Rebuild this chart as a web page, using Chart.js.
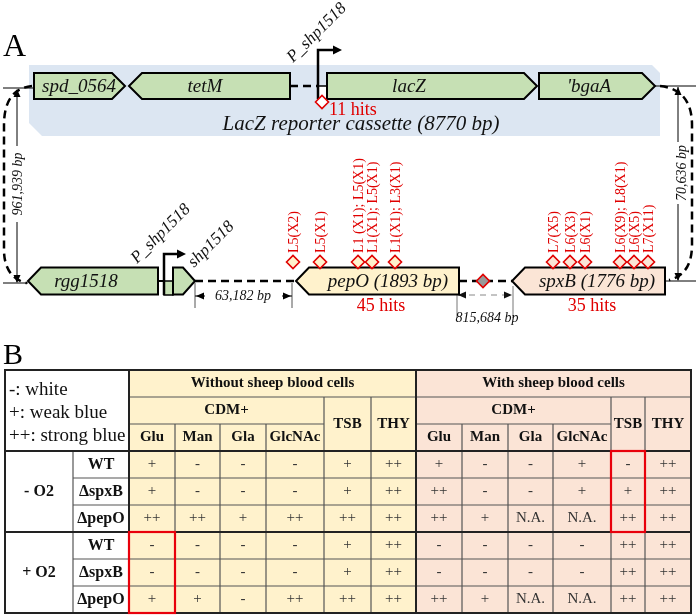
<!DOCTYPE html>
<html>
<head>
<meta charset="utf-8">
<script src="https://cdn.jsdelivr.net/npm/chart.js@4.4.0/dist/chart.umd.min.js"></script>
<style>
  html,body{margin:0;padding:0;background:#fff;}
  canvas{display:block;}
</style>
</head>
<body>
<canvas id="c" width="696" height="615"></canvas>
<script>
// Genes along the map (row 0 = reporter cassette, row 1 = chromosome)
const geneNames   = ["spd_0564","tetM","lacZ","'bgaA","rgg1518","shp1518","pepO (1893 bp)","spxB (1776 bp)"];
const geneStart   = [34,129,327,539,28,173,296,512];
const geneEnd     = [125,290,537,655,158,195,459,665];
const geneStrand  = [1,-1,1,1,-1,1,-1,-1];
const geneRow     = [0,0,0,0,1,1,1,1];
const geneLabelAt = [79,205,409,589,86,null,388,597];

// transposon hits
const cassetteHits  = [322];
const pepOHits      = [293,320,358,372,395];
const pepOHitLabels = ["L5(X2)","L5(X1)","L1 (X1); L5(X1)","L1(X1); L5(X1)","L1(X1); L3(X1)"];
const spxBHits      = [553,570,585,620,634,648];
const spxBHitLabels = ["L7(X5)","L6(X3)","L6(X1)","L6(X9); L8(X1)","L6(X5)","L7(X11)"];
const hitTotals     = ["11 hits","45 hits","35 hits"];
const distances     = ["961,939 bp","63,182 bp","815,684 bp","70,636 bp"];

// Table B
const legendLines = ["-: white","+: weak blue","++: strong blue"];
const media   = ["Glu","Man","Gla","GlcNAc","TSB","THY"];
const strains = ["WT","\u0394spxB","\u0394pepO"];
const oxygen  = ["- O2","+ O2"];
const noBlood = [
  ["+","-","-","-","+","++"],
  ["+","-","-","-","+","++"],
  ["++","++","+","++","++","++"],
  ["-","-","-","-","+","++"],
  ["-","-","-","-","+","++"],
  ["+","+","-","++","++","++"]
];
const withBlood = [
  ["+","-","-","+","-","++"],
  ["++","-","-","+","+","++"],
  ["++","+","N.A.","N.A.","++","++"],
  ["-","-","-","-","++","++"],
  ["-","-","-","-","++","++"],
  ["++","+","N.A.","N.A.","++","++"]
];

// layout / style
const ROW_Y = [86,281], GENE_H = [26,27], HIT_Y = 262;
const colX = [129,175,220,266,324,371,416,462,508,553,611,645,691];
const T_LEFT = 5, T_TOP = 370, ROW_H = 27;
const RED = "#e00000";
const SERIF = "'Liberation Serif','Times New Roman',serif";
const geneFill = ["#c6e0b4","#c6e0b4","#c6e0b4","#c6e0b4","#c6e0b4","#c6e0b4","#fff2cc","#fbe5d6"];

function txt(ctx,s,x,y,font,color,align,base,rot){
  ctx.save();
  ctx.translate(x,y);
  if(rot) ctx.rotate(rot);
  ctx.font = font; ctx.fillStyle = color||"#000";
  ctx.textAlign = align||"center"; ctx.textBaseline = base||"middle";
  ctx.fillText(s,0,0);
  ctx.restore();
}
function arrowHead(ctx,x,y,dir,len,w){
  len = len||8; w = w||3.5;
  ctx.beginPath();
  if(dir=="up"){ctx.moveTo(x,y);ctx.lineTo(x-w,y+len);ctx.lineTo(x+w,y+len);}
  if(dir=="down"){ctx.moveTo(x,y);ctx.lineTo(x-w,y-len);ctx.lineTo(x+w,y-len);}
  if(dir=="left"){ctx.moveTo(x,y);ctx.lineTo(x+len,y-w);ctx.lineTo(x+len,y+w);}
  if(dir=="right"){ctx.moveTo(x,y);ctx.lineTo(x-len,y-w);ctx.lineTo(x-len,y+w);}
  ctx.closePath(); ctx.fill();
}
function line(ctx,pts,w,color,dash){
  ctx.save();
  ctx.lineWidth = w; ctx.strokeStyle = color||"#000";
  ctx.setLineDash(dash||[]);
  ctx.beginPath();
  pts.forEach((p,i)=> i ? ctx.lineTo(p[0],p[1]) : ctx.moveTo(p[0],p[1]));
  ctx.stroke();
  ctx.restore();
}

const mapPlugin = {
  id:"map",
  beforeDatasetsDraw(chart){
    const ctx = chart.ctx, sx = chart.scales.x, sy = chart.scales.y;
    const X = v=>sx.getPixelForValue(v), Y = v=>sy.getPixelForValue(v);
    ctx.save();

    // panel letters
    txt(ctx,"A",X(3),Y(56),"32px "+SERIF,"#000","left","alphabetic");
    txt(ctx,"B",X(3),Y(364),"30px "+SERIF,"#000","left","alphabetic");

    // cassette band
    ctx.fillStyle = "#dce6f2";
    ctx.beginPath();
    ctx.moveTo(X(29),Y(65)); ctx.lineTo(X(652),Y(65)); ctx.lineTo(X(660),Y(73));
    ctx.lineTo(X(660),Y(136)); ctx.lineTo(X(42),Y(136)); ctx.lineTo(X(29),Y(123));
    ctx.closePath(); ctx.fill();
    txt(ctx,"LacZ reporter cassette (8770 bp)",X(361),Y(124),"italic 21px "+SERIF,"#111");

    // backbone lines
    const y0 = Y(ROW_Y[0]), y1 = Y(ROW_Y[1]);
    line(ctx,[[X(3),Y(88)],[X(34),Y(88)]],1,"#000");
    line(ctx,[[X(290),y0],[X(318),y0]],2.5,"#000",[8,5]);
    line(ctx,[[X(655),y0],[X(696),y0]],1,"#000");
    line(ctx,[[X(3),Y(283)],[X(28),Y(283)]],1,"#000");
    line(ctx,[[X(158),y1],[X(164),y1]],2,"#000");
    line(ctx,[[X(195),y1],[X(296),y1]],2.5,"#000",[8,5]);
    line(ctx,[[X(459),y1],[X(512),y1]],2.5,"#000",[8,5]);
    line(ctx,[[X(665),y1],[X(696),y1]],1,"#000");

    // long-range dashed links
    ctx.save();
    ctx.lineWidth = 2.5; ctx.setLineDash([8,5]); ctx.strokeStyle = "#000";
    ctx.beginPath();
    ctx.moveTo(X(32),Y(86)); ctx.bezierCurveTo(X(14),Y(88),X(4),Y(100),X(4),Y(125));
    ctx.lineTo(X(4),Y(250)); ctx.bezierCurveTo(X(4),Y(268),X(12),Y(280),X(27),Y(283));
    ctx.moveTo(X(660),Y(86)); ctx.bezierCurveTo(X(680),Y(88),X(692),Y(100),X(692),Y(125));
    ctx.lineTo(X(692),Y(245)); ctx.bezierCurveTo(X(692),Y(262),X(686),Y(276),X(669),Y(280));
    ctx.stroke();
    ctx.restore();

    // distance dimensions
    ctx.fillStyle = "#000";
    line(ctx,[[X(17),Y(90)],[X(17),Y(146)]],1);
    line(ctx,[[X(17),Y(222)],[X(17),Y(282)]],1);
    arrowHead(ctx,X(17),Y(89),"up"); arrowHead(ctx,X(17),Y(283),"down");
    txt(ctx,distances[0],X(18),Y(184),"italic 14px "+SERIF,"#111","center","middle",-Math.PI/2);

    line(ctx,[[X(678),Y(87)],[X(678),Y(142)]],1);
    line(ctx,[[X(678),Y(204)],[X(678),Y(280)]],1);
    arrowHead(ctx,X(678),Y(87),"up"); arrowHead(ctx,X(678),Y(281),"down");
    txt(ctx,distances[3],X(682),Y(173),"italic 14px "+SERIF,"#111","center","middle",-Math.PI/2);

    line(ctx,[[X(195),Y(283)],[X(195),Y(308)]],1,"#555");
    line(ctx,[[X(292),Y(283)],[X(292),Y(308)]],1,"#555");
    line(ctx,[[X(195),Y(296)],[X(205),Y(296)]],1); line(ctx,[[X(282),Y(296)],[X(292),Y(296)]],1);
    arrowHead(ctx,X(196),Y(296),"left"); arrowHead(ctx,X(291),Y(296),"right");
    txt(ctx,distances[1],X(243),Y(296),"italic 14px "+SERIF,"#111");

    line(ctx,[[X(457),Y(286)],[X(457),Y(318)]],1,"#777");
    line(ctx,[[X(513),Y(286)],[X(513),Y(318)]],1,"#777");
    line(ctx,[[X(458),Y(295)],[X(512),Y(295)]],1,"#888",[6,5]);
    ctx.fillStyle = "#111";
    arrowHead(ctx,X(458),Y(295),"left"); arrowHead(ctx,X(512),Y(295),"right");
    txt(ctx,distances[2],X(487),Y(318),"italic 14px "+SERIF,"#111");

    // promoters
    ctx.fillStyle = "#fff"; ctx.strokeStyle = "#000"; ctx.lineWidth = 1.5;
    ctx.fillRect(X(318),Y(86),X(327)-X(318),Y(99)-Y(86));
    ctx.strokeRect(X(318),Y(86),X(327)-X(318),Y(99)-Y(86));
    line(ctx,[[X(318),Y(99)],[X(318),Y(50)],[X(334),Y(50)]],2.5);
    ctx.fillStyle = "#000"; arrowHead(ctx,X(342),Y(50),"right",9,4.5);
    txt(ctx,"P_shp1518",X(293),Y(63),"italic 17px "+SERIF,"#111","left","alphabetic",-Math.PI/4);

    ctx.fillStyle = geneFill[5]; ctx.strokeStyle = "#000"; ctx.lineWidth = 1.5;
    ctx.fillRect(X(164),Y(281),X(173)-X(164),Y(295)-Y(281));
    ctx.strokeRect(X(164),Y(281),X(173)-X(164),Y(295)-Y(281));
    line(ctx,[[X(164),Y(295)],[X(164),Y(254)],[X(177),Y(254)]],2.5);
    ctx.fillStyle = "#000"; arrowHead(ctx,X(186),Y(254),"right",9,4.5);
    txt(ctx,"P_shp1518",X(137),Y(264),"italic 17px "+SERIF,"#111","left","alphabetic",-Math.PI/4);
    txt(ctx,"shp1518",X(194),Y(268),"italic 17px "+SERIF,"#111","left","alphabetic",-Math.PI/4);

    // genes
    geneNames.forEach((name,i)=>{
      const row = geneRow[i], yc = Y(ROW_Y[row]), h = GENE_H[row];
      const x0 = X(geneStart[i]), x1 = X(geneEnd[i]);
      const tip = i==5 ? 12 : 13;
      const t = yc-h/2, b = yc+h/2;
      ctx.beginPath();
      if(geneStrand[i]>0){
        ctx.moveTo(x0,t); ctx.lineTo(x1-tip,t); ctx.lineTo(x1,yc); ctx.lineTo(x1-tip,b); ctx.lineTo(x0,b);
      } else {
        ctx.moveTo(x1,t); ctx.lineTo(x0+tip,t); ctx.lineTo(x0,yc); ctx.lineTo(x0+tip,b); ctx.lineTo(x1,b);
      }
      ctx.closePath();
      ctx.fillStyle = geneFill[i]; ctx.fill();
      ctx.lineWidth = 2; ctx.strokeStyle = "#000"; ctx.lineJoin = "miter"; ctx.stroke();
      if(geneLabelAt[i]!=null)
        txt(ctx,name,X(geneLabelAt[i]),yc+1,"italic 19px "+SERIF,"#111");
    });

    // hit totals
    txt(ctx,hitTotals[0],X(329),Y(110),"18px "+SERIF,RED,"left");
    txt(ctx,hitTotals[1],X(381),Y(306),"18px "+SERIF,RED);
    txt(ctx,hitTotals[2],X(592),Y(306),"18px "+SERIF,RED);

    // ---------- table ----------
    const rowY = i=>Y(T_TOP+i*ROW_H);
    const L = X(T_LEFT), R = X(colX[12]);
    ctx.fillStyle = "#fff2cc"; ctx.fillRect(X(colX[0]),rowY(0),X(colX[6])-X(colX[0]),rowY(9)-rowY(0));
    ctx.fillStyle = "#fbe4d6"; ctx.fillRect(X(colX[6]),rowY(0),R-X(colX[6]),rowY(9)-rowY(0));

    const thin = "#555";
    // horizontal thin lines
    line(ctx,[[X(colX[0]),rowY(1)],[R,rowY(1)]],1.2,thin);
    line(ctx,[[X(colX[0]),rowY(2)],[X(colX[4]),rowY(2)]],1.2,thin);
    line(ctx,[[X(colX[6]),rowY(2)],[X(colX[10]),rowY(2)]],1.2,thin);
    [4,5,7,8].forEach(r=>line(ctx,[[X(73),rowY(r)],[R,rowY(r)]],1.2,thin));
    // vertical thin lines
    [1,2,3,7,8,9].forEach(c=>line(ctx,[[X(colX[c]),rowY(2)],[X(colX[c]),rowY(9)]],1.2,thin));
    [4,5,10,11].forEach(c=>line(ctx,[[X(colX[c]),rowY(1)],[X(colX[c]),rowY(9)]],1.2,thin));
    line(ctx,[[X(73),rowY(3)],[X(73),rowY(9)]],1.2,thin);
    // thick lines
    const thick = "#222";
    line(ctx,[[X(colX[0]),rowY(0)],[X(colX[0]),rowY(9)]],2,thick);
    line(ctx,[[X(colX[6]),rowY(0)],[X(colX[6]),rowY(9)]],2,thick);
    line(ctx,[[L,rowY(3)],[R,rowY(3)]],2,thick);
    line(ctx,[[L,rowY(6)],[R,rowY(6)]],2,thick);
    ctx.lineWidth = 2; ctx.strokeStyle = thick;
    ctx.strokeRect(L,rowY(0),R-L,rowY(9)-rowY(0));

    // legend cell
    legendLines.forEach((s,i)=>txt(ctx,s,X(9),Y(390+i*23),"19px "+SERIF,"#111","left"));

    // headers
    const B15 = "bold 15px "+SERIF, B16 = "bold 16px "+SERIF;
    const cx = c=>(X(colX[c])+X(colX[c+1]))/2;
    txt(ctx,"Without sheep blood cells",(X(colX[0])+X(colX[6]))/2,rowY(0.5),B15,"#111");
    txt(ctx,"With sheep blood cells",(X(colX[6])+R)/2,rowY(0.5),B15,"#111");
    txt(ctx,"CDM+",(X(colX[0])+X(colX[4]))/2,rowY(1.5),B15,"#111");
    txt(ctx,"CDM+",(X(colX[6])+X(colX[10]))/2,rowY(1.5),B15,"#111");
    media.forEach((m,k)=>{
      [0,6].forEach(off=>{
        const c = off+k;
        txt(ctx,m,cx(c),k<4 ? rowY(2.5) : rowY(2),B15,"#111");
      });
    });

    // row labels
    oxygen.forEach((o,g)=>txt(ctx,o,(L+X(73))/2,rowY(4.5+g*3),B16,"#111"));
    for(let r=0;r<6;r++){
      txt(ctx,strains[r%3],(X(73)+X(colX[0]))/2,rowY(3.5+r),B16,"#111");
      noBlood[r].forEach((v,k)=>txt(ctx,v,cx(k),rowY(3.5+r),"15px "+SERIF,"#333"));
      withBlood[r].forEach((v,k)=>txt(ctx,v,cx(6+k),rowY(3.5+r),"15px "+SERIF,"#333"));
    }

    // highlighted cells
    ctx.strokeStyle = "#e8000b"; ctx.lineWidth = 2.2;
    ctx.strokeRect(X(colX[10]),rowY(3),X(colX[11])-X(colX[10]),rowY(6)-rowY(3));
    ctx.strokeRect(X(colX[0]),rowY(6),X(colX[1])-X(colX[0]),rowY(9)-rowY(6));

    ctx.restore();
  },
  afterDatasetsDraw(chart){
    const ctx = chart.ctx, sx = chart.scales.x, sy = chart.scales.y;
    const X = v=>sx.getPixelForValue(v), Y = v=>sy.getPixelForValue(v);
    const f = "14px "+SERIF;
    pepOHits.forEach((h,i)=>txt(ctx,pepOHitLabels[i],X(h)+1,Y(HIT_Y-9),f,RED,"left","middle",-Math.PI/2));
    spxBHits.forEach((h,i)=>txt(ctx,spxBHitLabels[i],X(h)+1,Y(HIT_Y-9),f,RED,"left","middle",-Math.PI/2));
  }
};

const hitStyle = (fill)=>({
  pointStyle:"rectRot", pointRadius:6.5, pointBorderWidth:1.6,
  pointBorderColor:RED, pointBackgroundColor:fill, showLine:false, clip:false
});

new Chart(document.getElementById("c").getContext("2d"), {
  type:"scatter",
  data:{
    datasets:[
      Object.assign({label:"cassette", data:cassetteHits.map(x=>({x:x,y:102}))}, hitStyle("#fff")),
      Object.assign({label:"pepO", data:pepOHits.map(x=>({x:x,y:HIT_Y}))}, hitStyle("#fff2cc")),
      Object.assign({label:"spxB", data:spxBHits.map(x=>({x:x,y:HIT_Y}))}, hitStyle("#fbe5d6")),
      Object.assign({label:"intergenic", data:[{x:483,y:ROW_Y[1]}]}, hitStyle("#999"))
    ]
  },
  options:{
    responsive:false, animation:false,
    layout:{padding:0, autoPadding:false},
    plugins:{legend:{display:false}, tooltip:{enabled:false}},
    scales:{
      x:{type:"linear", min:0, max:696, display:false},
      y:{type:"linear", min:0, max:615, reverse:true, display:false}
    }
  },
  plugins:[mapPlugin]
});
</script>
</body>
</html>
